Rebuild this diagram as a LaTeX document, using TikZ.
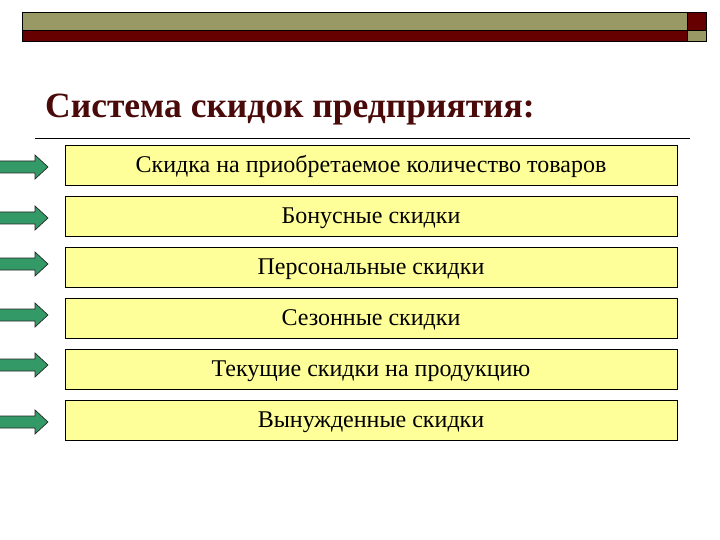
\documentclass[tikz,border=0pt]{standalone}
\usepackage{fontspec}
\setmainfont{Liberation Serif}
\definecolor{olivebar}{HTML}{999966}
\definecolor{darkred}{HTML}{660000}
\definecolor{boxfill}{HTML}{FFFF99}
\definecolor{arrowgreen}{HTML}{339966}
\definecolor{titlecol}{HTML}{4A0A0A}
\begin{document}
\begin{tikzpicture}[x=1pt,y=-1pt,
  itembox/.style={draw=black,line width=0.9pt,fill=boxfill,minimum width=612pt,minimum height=40pt,inner sep=0pt,text height=15.5pt,text depth=0pt,font=\fontsize{24}{26}\selectfont},
  greenarrow/.style={draw=black!85,line width=0.7pt,fill=arrowgreen}]
\useasboundingbox (0,0) rectangle (720,540);
% top bar
\fill[olivebar] (22,12) rectangle (687,30.5);
\fill[darkred] (22,30.5) rectangle (687,41);
\fill[darkred] (687,12) rectangle (706,30.5);
\fill[olivebar] (687,30.5) rectangle (706,41);
\draw[line width=0.9pt] (22,12) rectangle (706,41);
\draw[line width=0.9pt] (22,30.5) -- (706,30.5);
\draw[line width=0.9pt] (687,12) -- (687,41);
% title
\node[anchor=base west,inner sep=0pt,text=titlecol,font=\fontsize{35.5}{38}\bfseries] (title) at (45,118) {Система скидок предприятия:};
\coordinate (ruleL) at (35,138);
\coordinate (ruleR) at (690,138);
\draw[line width=0.9pt] (ruleL) -- (ruleR);
% boxes
\node[itembox] (b1) at (371,165) {Скидка на приобретаемое количество товаров};
\node[itembox] (b2) at (371,216) {Бонусные скидки};
\node[itembox] (b3) at (371,267) {Персональные скидки};
\node[itembox] (b4) at (371,318) {Сезонные скидки};
\node[itembox] (b5) at (371,369) {Текущие скидки на продукцию};
\node[itembox] (b6) at (371,420) {Вынужденные скидки};
% arrows
\foreach \yy in {167,218,264,315,365,422}{
  \draw[greenarrow] (-2,\yy-6) -- (35,\yy-6) -- (35,\yy-12) -- (48,\yy) -- (35,\yy+12) -- (35,\yy+6) -- (-2,\yy+6) -- cycle;
}
\end{tikzpicture}
\end{document}
